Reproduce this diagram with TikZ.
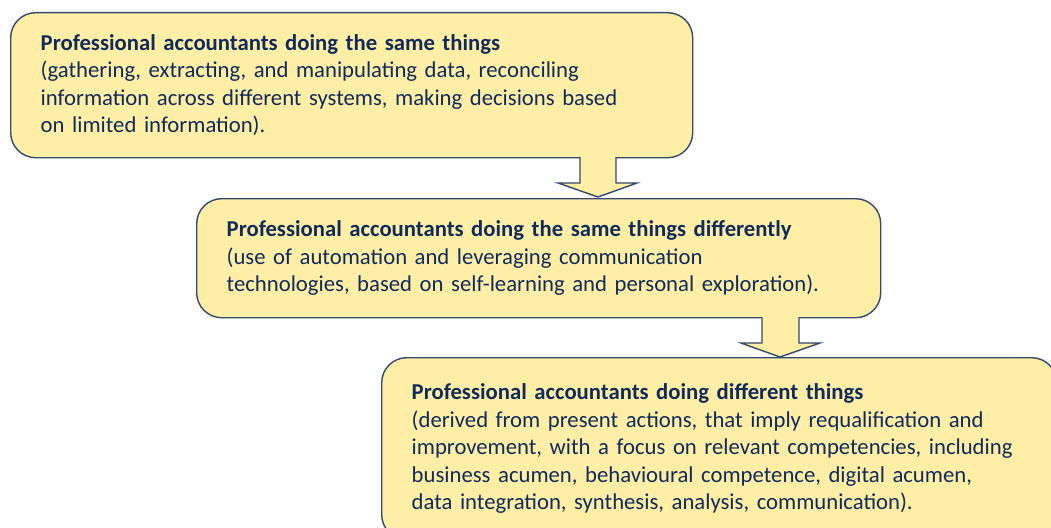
\documentclass[tikz,border=0pt]{standalone}
\usepackage{fontspec}
\setmainfont{Carlito}
\definecolor{boxfill}{HTML}{FFEEA6}
\definecolor{boxline}{HTML}{34496B}
\definecolor{txt}{HTML}{102B5A}
\hyphenpenalty=10000
\begin{document}
\begin{tikzpicture}[x=1pt,y=-1pt,
  box/.style={draw=boxline,fill=boxfill,line width=1.4pt,rounded corners=25pt,
    anchor=north west,align=left,text=txt,inner xsep=30pt,inner ysep=0pt,
    font=\fontsize{22.7}{27.4}\selectfont},
  downarrow/.style={draw=boxline,fill=boxfill,line width=1.4pt,line join=miter}]
\useasboundingbox (0,0) rectangle (1051,527);
\clip (0,0) rectangle (1051,527);
\node[box,minimum width=682pt,minimum height=145pt,text width=622pt] (b1) at (10,12)
  {\textbf{Professional accountants doing the same things}\\
   (gathering, extracting, and manipulating data, reconciling\\
   information across different systems, making decisions based\\
   on limited information).};
\node[box,minimum width=684pt,minimum height=119pt,text width=624pt] (b2) at (196,198)
  {\textbf{Professional accountants doing the same things differently}\\
   (use of automation and leveraging communication\\
   technologies, based on self-learning and personal exploration).};
\node[box,minimum width=675pt,minimum height=182pt,text width=615pt] (b3) at (381,357)
  {\textbf{Professional accountants doing different things}\\
   (derived from present actions, that imply requalification and\\
   improvement, with a focus on relevant competencies, including\\
   business acumen, behavioural competence, digital acumen,\\
   data integration, synthesis, analysis, communication).};
\draw[downarrow] (580,157) -- (580,183) -- (558,183) -- (598,197) -- (637,183) -- (616,183) -- (616,157);
\draw[downarrow] (762,317) -- (762,343) -- (741,343) -- (780,357) -- (820,343) -- (799,343) -- (799,317);
\end{tikzpicture}
\end{document}
